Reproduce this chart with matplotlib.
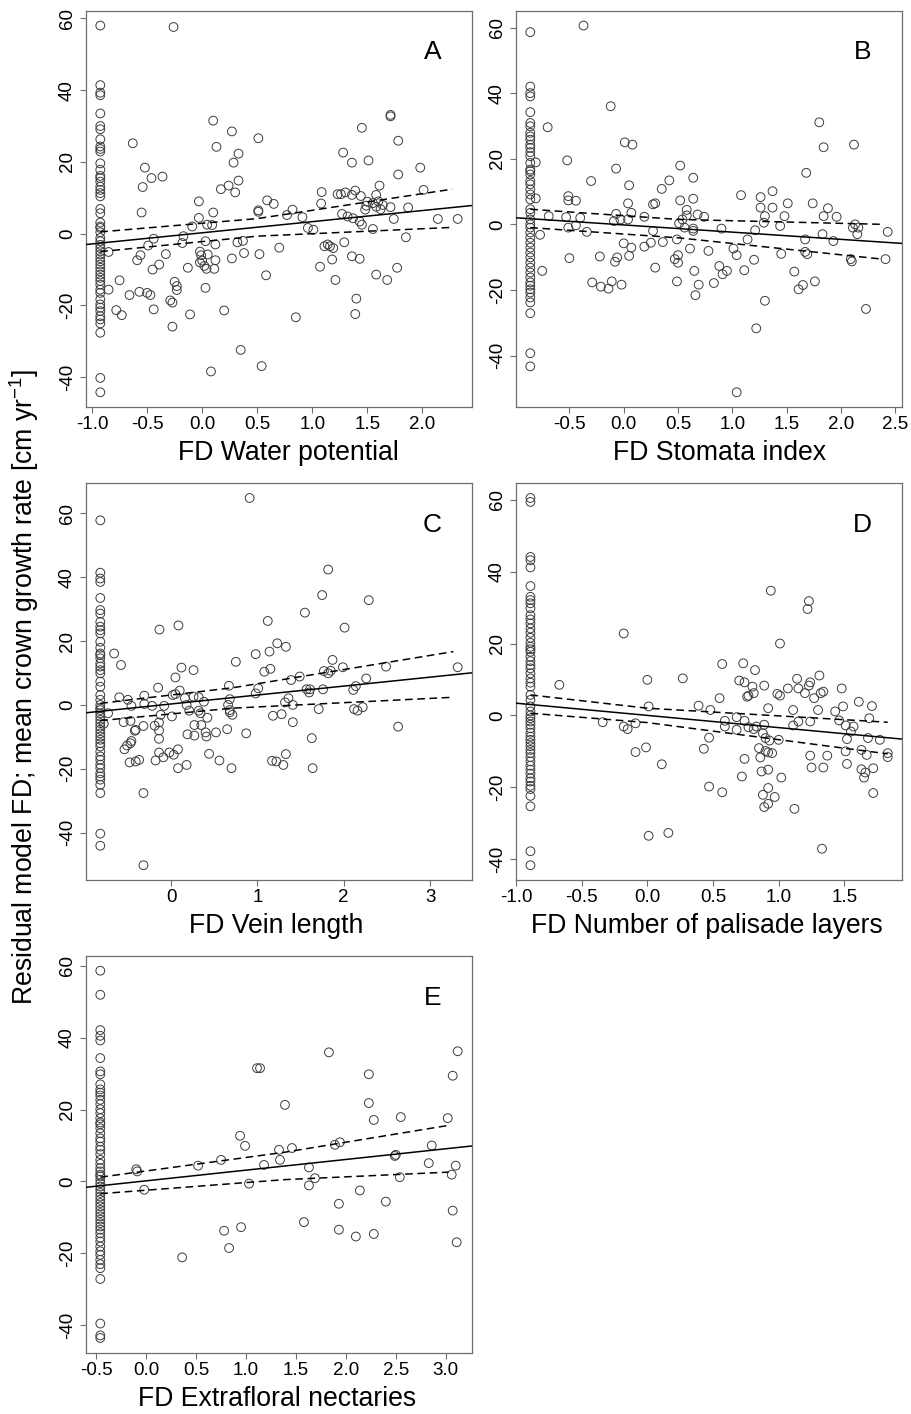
import matplotlib

matplotlib.use("Agg")
import matplotlib.pyplot as plt
import numpy as np

plt.rcParams["font.family"] = ["Liberation Sans", "DejaVu Sans"]
plt.rcParams["mathtext.default"] = "regular"

# ---------------- panel A: water potential ----------------
A_X0 = -0.925
A_Y0 = [58.0, 41.4, 39.3, 38.6, 33.5, 30.0, 29.1, 26.3, 24.3, 23.6, 22.9, 19.6, 17.8, 16.1,
        15.5, 14.5, 13.1, 12.2, 11.3, 10.4, 6.9, 5.7, 3.1, 2.0, 1.6, 0.4, -1.2, -2.1, -3.1,
        -4.0, -4.9, -5.8, -6.8, -7.7, -8.6, -9.5, -10.5, -11.4, -12.3, -13.2, -14.2, -15.6,
        -16.5, -18.3, -19.7, -20.6, -21.6, -23.0, -23.9, -25.0, -27.6, -40.2, -44.2]
A_X = [-0.26, -0.63, -0.52, -0.54, -0.46, -0.36, -0.55, -0.03, -0.03, -0.09,
       0.045, 0.09, 0.10, 0.13, 0.17, 0.24, 0.30, 0.285, 0.27, 0.33,
       0.33, 0.10, 0.51, 0.51, 0.51, 0.59, 0.65, 0.77, 0.82,
       -0.85, -0.85, -0.66, -0.75, -0.78, -0.73, -0.59, -0.56, -0.49, -0.44,
       -0.45, -0.39, -0.33, -0.57, -0.50, -0.47, -0.44, -0.29, -0.27, -0.25,
       -0.23, -0.23, -0.27, -0.17, -0.18, -0.13, -0.11, -0.02, -0.01, 0.0,
       -0.02, 0.02, 0.04, 0.05, 0.03, 0.12, 0.12, 0.11, 0.03, 0.20,
       0.08, 0.27, 0.32, 0.37, 0.38, 0.35, 0.52, 0.58, 0.54, 0.70, 0.85,
       1.71, 1.71, 1.45, 1.78, 1.28, 1.36, 1.51, 1.78, 1.98, 1.61,
       2.01, 1.085, 1.08, 1.23, 1.26, 1.30, 1.36, 1.39, 1.44, 1.58,
       1.55, 1.60, 1.58, 1.64, 1.62, 1.49, 1.48, 1.50, 1.71, 1.87,
       1.27, 1.32, 1.37, 1.74, 2.14, 2.32, 0.91, 1.45, 1.43, 1.55,
       0.96, 1.01, 1.85, 1.29, 1.11, 1.14, 1.16, 1.19, 1.36, 1.43,
       1.18, 1.07, 1.58, 1.68, 1.77, 1.21, 1.40, 1.39]
A_Y = [57.6, 25.2, 18.4, 13.0, 15.5, 15.9, 5.9, 9.0, 4.4, 2.0,
       2.5, 2.4, 31.5, 24.2, 12.4, 13.4, 11.5, 19.8, 28.5, 14.8,
       22.3, 5.9, 26.6, 6.5, 6.1, 9.3, 8.3, 5.2, 6.7,
       -5.1, -15.6, -17.1, -13.0, -21.3, -22.7, -7.4, -6.0, -3.3, -1.4,
       -10.0, -8.6, -5.7, -16.2, -16.5, -17.1, -21.1, -18.6, -19.2, -13.4,
       -14.6, -15.7, -25.9, -0.7, -2.6, -9.5, -22.5, -5.0, -6.0, -7.5,
       -8.0, -9.0, -9.8, -5.8, -2.1, -3.0, -7.4, -9.8, -15.1, -21.4,
       -38.4, -6.9, -2.4, -2.0, -5.4, -32.4, -5.7, -11.6, -36.9, -3.9, -23.3,
       33.1, 32.7, 29.5, 25.9, 22.6, 19.8, 20.4, 16.5, 18.4, 13.4,
       12.2, 11.6, 8.4, 11.0, 11.0, 11.5, 10.8, 12.0, 10.5, 10.8,
       8.5, 9.0, 7.5, 8.0, 6.8, 7.8, 6.7, 8.9, 7.4, 7.3,
       5.5, 4.8, 4.3, 4.1, 4.1, 4.1, 4.6, 2.5, 3.4, 1.3,
       1.6, 1.1, -1.0, -2.4, -3.5, -3.0, -3.5, -4.0, -6.3, -7.0,
       -7.2, -9.2, -11.4, -12.9, -9.5, -12.9, -18.1, -22.4]
A_FIT = (0.25, 3.1)
A_BAND_X = [-0.925, 0.5, 2.27]
A_BAND_HI = [0.5, 4.2, 12.4]
A_BAND_LO = [-5.0, -0.7, 1.75]
A_XTICKS = [-1.0, -0.5, 0.0, 0.5, 1.0, 1.5, 2.0]

# ---------------- panel B: stomata index ----------------
B_X0 = -0.86
B_Y0 = [58.6, 42.0, 40.0, 39.0, 34.2, 30.9, 29.9, 27.9, 26.8, 25.8, 24.3, 23.3, 22.0, 20.8,
        18.7, 16.7, 16.2, 15.2, 13.2, 12.2, 10.6, 9.1, 7.6, 4.6, 3.5, 1.5, 0.0, -1.0, -2.5,
        -4.1, -5.6, -7.1, -8.6, -10.1, -11.7, -13.2, -14.7, -16.2, -17.7, -18.7, -19.8,
        -20.8, -22.3, -23.8, -27.1, -39.3, -43.3]
B_X = [-0.81, -0.81, -0.77, -0.75, -0.37, -0.70, -0.12, 0.01, 0.08, -0.52,
       -0.07, -0.30, 0.05, -0.51, -0.51, -0.44, -0.69, -0.53, -0.40, -0.07,
       -0.03, -0.09, 0.04, 0.07, 0.04, 0.19, 0.27, 0.29, 0.35, 0.42,
       0.52, 0.52, 0.64, 0.64, 0.58, 0.58, 0.68, 0.74, 0.51, 0.54,
       1.08, 1.26, 1.26, 1.30, 1.37, 1.37, 1.51, 1.48, 1.68, 1.74,
       1.80, 1.84, 1.88, 1.84, 1.96, 2.12, 1.29,
       -0.51, -0.44, -0.34, -0.50, -0.22, -0.06, -0.08, -0.29, -0.21, -0.14,
       -0.11, -0.02, 0.0, 0.07, 0.05, 0.19, 0.25, 0.27, 0.36, 0.29,
       0.49, 0.50, 0.47, 0.50, 0.49, 0.56, 0.64, 0.64, 0.61, 0.65,
       0.66, 0.69, 0.78, 0.83, 0.88, 0.91, 0.95, 0.90, 1.01, 1.04,
       1.04, 1.11, 1.14, 1.20, 1.21, 1.22, 1.30, 1.44, 1.45, 1.57,
       1.61, 1.65, 1.67, 1.67, 1.69, 1.76, 1.83, 1.93, 2.09, 2.10,
       2.11, 2.16, 2.15, 2.13, 2.23, 2.41, 2.43]
B_Y = [18.9, 7.9, -3.2, -14.2, 60.6, 29.6, 36.0, 25.0, 24.3, 19.5,
       17.0, 13.2, 11.9, 8.6, 7.3, 7.2, 2.5, 2.2, 2.0, 3.2,
       1.5, 1.0, 6.4, 3.5, 1.5, 2.3, 6.1, 6.4, 10.8, 13.4,
       17.9, 7.3, 14.2, 7.8, 4.4, 2.7, 3.0, 2.3, 0.3, 1.5,
       8.9, 8.3, 5.1, 2.5, 10.1, 5.1, 6.4, 2.5, 15.7, 6.4,
       31.1, 23.5, 4.9, 2.5, 2.3, 24.3, 0.5,
       -1.0, -0.3, -2.3, -10.3, -9.8, -10.1, -11.4, -17.7, -19.0, -19.6,
       -17.4, -18.4, -5.8, -7.1, -9.6, -6.8, -5.6, -2.0, -5.4, -13.2,
       -4.6, -9.4, -10.6, -11.7, -17.4, -1.0, -1.3, -2.0, -7.4, -14.2,
       -21.6, -18.4, -8.1, -17.9, -12.7, -15.2, -14.2, -1.3, -7.4, -9.4,
       -51.2, -14.0, -4.6, -10.8, -1.8, -31.7, -23.3, -0.5, -9.0, -14.4,
       -19.8, -18.5, -4.6, -8.4, -9.1, -17.4, -3.0, -5.1, -10.6, -11.3,
       -1.0, -1.0, -3.0, 0.0, -25.8, -10.6, -2.3]
B_FIT = (-0.18, -2.2)
B_BAND_X = [-0.86, 0.5, 2.38]
B_BAND_HI = [4.6, 1.5, 0.0]
B_BAND_LO = [-1.0, -4.1, -10.6]
B_XTICKS = [-0.5, 0.0, 0.5, 1.0, 1.5, 2.0, 2.5]

# ---------------- panel C: vein length ----------------
C_X0 = -0.82
C_Y0 = [57.8, 41.4, 39.6, 38.5, 33.5, 29.7, 28.6, 26.0, 24.5, 23.4, 22.4, 19.8, 17.9, 16.1,
        15.6, 14.6, 13.0, 12.0, 10.9, 9.9, 7.3, 5.7, 3.1, 1.6, 0.0, -1.0, -1.6, -2.6, -3.6,
        -4.7, -5.7, -6.8, -7.8, -8.9, -9.9, -10.9, -12.0, -13.0, -14.6, -16.1, -17.2,
        -18.7, -19.8, -21.4, -22.4, -23.4, -25.0, -27.6, -40.3, -44.1]
C_X = [0.91, 1.82, 1.75, 2.29, 1.55, 1.12, 2.01, 0.085, -0.135, 1.23,
       1.33, 1.14, 0.98, 0.75, -0.66, -0.58, 0.12, 0.26, 0.05, 1.08,
       1.15, 1.87, 1.77, 1.82, 1.85, 1.99, 2.49, 3.32, 1.49, 1.39,
       2.26, 2.14, -0.15, 0.67, 1.01, 1.57, 1.61, 1.76, 0.10,
       -0.78, -0.73, -0.60, -0.50, -0.46, -0.55, -0.47, -0.42, -0.41, -0.54,
       -0.51, -0.47, -0.46, -0.48, -0.41, -0.37, -0.32, -0.31, -0.31, -0.32,
       -0.32, -0.22, -0.19, -0.14, -0.14, -0.14, -0.18, -0.14, -0.09, -0.12,
       -0.08, 0.01, -0.02, 0.03, 0.08, 0.08, 0.02, 0.05, 0.16, 0.18,
       0.21, 0.18, 0.19, 0.27, 0.27, 0.35, 0.26, 0.32, 0.38, 0.32,
       0.34, 0.40, 0.41, 0.42, 0.44, 0.52, 0.56, 0.65, 0.66, 0.68,
       0.68, 0.71, 0.68, 0.70, 0.87, 0.98, 1.18, 1.28, 1.17, 1.22,
       1.30, 1.33, 1.32, 1.36, 1.41, 1.41, 1.60, 1.63, 1.71, 1.64,
       2.11, 2.12, 2.16, 2.22, 2.63]
C_Y = [64.8, 42.4, 34.4, 32.8, 28.9, 26.3, 24.2, 24.9, 23.6, 19.3,
       18.2, 16.7, 15.9, 13.5, 16.1, 12.5, 11.7, 10.9, 8.6, 10.4,
       11.3, 14.1, 10.6, 9.9, 10.7, 11.8, 12.0, 11.8, 8.9, 7.8,
       8.3, 5.9, 5.4, 6.0, 5.2, 4.9, 4.9, 4.9, 4.5,
       -5.9, -2.6, 2.4, 1.6, -0.3, -5.4, -5.0, -8.1, -7.8, -13.9,
       -12.7, -12.0, -11.3, -18.0, -17.7, -17.2, -6.6, 2.9, 0.3, -27.6,
       -50.2, -0.3, -6.5, -5.5, -8.0, -10.6, -17.4, -14.9, -16.4, -3.1,
       -0.3, -3.6, -14.9, -15.6, -13.9, -19.8, 3.1, 3.4, 2.1, 0.0,
       -1.8, -18.8, -9.2, -9.6, -6.3, -6.3, 2.6, 2.4, 1.0, -1.8,
       -2.6, -8.6, -9.9, -4.0, -15.3, -8.6, -17.4, -7.6, 0.0, -1.6,
       -2.3, -3.1, 1.8, -19.8, -8.9, 3.6, -3.4, -2.9, -17.5, -17.7,
       -18.8, -15.4, 0.8, 2.1, 0.0, -5.4, 3.9, -10.4, -1.3, -19.8,
       4.7, -1.3, -1.8, -0.7, -6.8]
C_FIT = (0.3, 2.8)
C_BAND_X = [-0.82, 0.72, 3.27]
C_BAND_HI = [0.5, 5.4, 16.7]
C_BAND_LO = [-4.9, -1.0, 2.4]
C_XTICKS = [0, 1, 2, 3]

# ---------------- panel D: palisade layers ----------------
D_X0 = -0.89
D_Y0 = [60.5, 59.4, 44.1, 43.2, 41.2, 36.0, 33.0, 32.1, 31.2, 29.8, 27.9, 26.7, 25.6, 24.2,
        23.0, 21.6, 20.2, 19.1, 18.4, 17.7, 16.3, 15.1, 14.0, 13.1, 11.7, 10.3, 9.1, 8.0,
        5.7, 4.3, 2.5, 1.1, 0.0, -0.8, -1.7, -2.6, -3.6, -4.8, -5.9, -6.8, -7.7, -8.6,
        -9.6, -10.5, -11.6, -12.8, -14.0, -15.1, -16.2, -17.5, -18.4, -19.6, -20.5, -22.4,
        -25.3, -37.8, -41.7]
D_X = [-0.18, -0.67, 0.0, 0.27, 0.57, 0.73, 0.82, 0.94, 1.23, 1.22,
       1.01, 0.70, 0.74, 0.80, 0.89, 1.14, 1.31, 1.24, 1.07, 1.15, 1.23, 1.48,
       -0.34, -0.18, -0.15, -0.09, -0.09, -0.01, 0.01, 0.01, 0.11, 0.16,
       0.39, 0.48, 0.55, 0.43, 0.47, 0.47, 0.57, 0.59, 0.59, 0.68,
       0.68, 0.74, 0.76, 0.77, 0.81, 0.74, 0.72, 0.77, 0.81, 0.83,
       0.85, 0.86, 0.87, 0.88, 0.89, 0.92, 0.92, 0.92, 0.89, 0.88,
       0.90, 0.92, 0.90, 0.92, 0.95, 0.93, 0.97, 0.99, 1.01, 1.00,
       1.02, 1.11, 1.11, 1.12, 1.15, 1.20, 1.27, 1.24, 1.24, 1.25,
       1.30, 1.32, 1.34, 1.34, 1.33, 1.37, 1.43, 1.46, 1.49, 1.51,
       1.52, 1.51, 1.52, 1.55, 1.57, 1.61, 1.63, 1.63, 1.65, 1.66,
       1.67, 1.68, 1.69, 1.71, 1.72, 1.72, 1.77, 1.83, 1.83]
D_Y = [22.8, 8.5, 9.9, 10.3, 14.3, 14.5, 12.6, 34.7, 31.8, 29.6,
       20.0, 9.7, 9.2, 8.0, 8.3, 10.2, 11.1, 9.2, 7.5, 7.5, 8.3, 7.5,
       -1.9, -3.1, -3.8, -2.2, -10.2, -8.9, 2.5, -33.5, -13.6, -32.7,
       2.7, 1.5, 4.8, -9.3, -6.2, -19.8, -21.4, -1.5, -3.1, -0.5,
       -4.0, -1.5, 5.2, 5.5, 6.2, -12.1, -17.0, -3.3, -3.8, -3.1,
       -9.1, -11.7, -15.6, -22.1, -25.5, -24.6, -20.2, -15.1, -2.6, -5.0,
       -6.3, 2.0, -9.9, -10.3, -10.5, -7.0, -22.7, 6.0, 5.5, -6.8,
       -17.3, 1.5, -2.8, -26.0, -1.7, 6.2, 4.8, -1.7, -11.2, -14.5,
       1.5, 6.2, 6.6, -14.5, -37.1, -11.2, 1.1, -1.4, 2.5, -2.8,
       -6.6, -10.0, -13.5, -4.5, -3.1, 3.8, -9.6, -15.0, -17.3, -15.9,
       -11.0, -6.3, -0.8, 2.6, -14.7, -21.6, -6.8, -10.5, -11.6]
D_FIT = (0.0, -3.4)
D_BAND_X = [-0.89, 0.0, 1.83]
D_BAND_HI = [5.7, 2.0, -1.9]
D_BAND_LO = [0.6, -2.0, -10.7]
D_XTICKS = [-1.0, -0.5, 0.0, 0.5, 1.0, 1.5]

# ---------------- panel E: extrafloral nectaries ----------------
E_X0 = -0.46
E_Y0 = [58.6, 51.9, 42.1, 40.5, 39.2, 34.3, 30.6, 29.8, 27.0, 25.6, 24.7, 23.9, 22.7, 21.5,
        20.1, 19.0, 17.6, 16.4, 15.9, 14.8, 13.4, 12.0, 11.1, 9.7, 8.8, 7.6, 6.0, 4.9, 3.7,
        2.8, 1.9, 1.4, 0.5, -0.5, -1.4, -2.3, -3.2, -4.2, -5.1, -6.0, -6.9, -7.9, -8.8,
        -9.7, -10.6, -11.6, -12.5, -13.4, -14.4, -15.6, -16.7, -18.1, -19.4, -20.4, -21.8,
        -23.0, -24.1, -27.1, -39.5, -42.8, -43.5]
E_X = [1.83, 3.12, 1.11, 1.14, 2.23, 3.07, 1.39, 2.23, 2.28, 2.55,
       3.02, 0.94, 0.99, 1.89, 1.94, 1.33, 1.46, 2.86, 2.49, 2.50,
       0.75, 0.52, 1.34, 1.18, 1.63, 2.83, 3.10, -0.10, -0.09, 1.69,
       2.54, 3.06, -0.02, 0.36, 0.78, 0.83, 0.95, 1.03, 1.58, 1.63,
       1.93, 1.93, 2.10, 2.14, 2.28, 2.40, 3.07, 3.11]
E_Y = [35.9, 36.2, 31.5, 31.5, 29.8, 29.4, 21.3, 21.8, 17.1, 17.9,
       17.6, 12.7, 9.9, 10.2, 10.9, 8.8, 9.3, 10.0, 7.1, 7.4,
       6.0, 4.4, 6.0, 4.6, 3.9, 5.1, 4.4, 3.4, 2.8, 0.9,
       1.2, 1.9, -2.3, -21.1, -13.7, -18.5, -12.7, -0.6, -11.3, -1.1,
       -6.2, -13.4, -15.3, -2.5, -14.6, -5.6, -8.1, -16.9]
E_FIT = (0.18, 2.97)
E_BAND_X = [-0.46, 1.38, 3.03]
E_BAND_HI = [1.2, 8.1, 15.6]
E_BAND_LO = [-3.4, 0.5, 2.6]
E_XTICKS = [-0.5, 0.0, 0.5, 1.0, 1.5, 2.0, 2.5, 3.0]

Y_TICKS = [-40, -20, 0, 20, 40, 60]
LETTERS = ["A", "B", "C", "D", "E"]
XLABELS = ["FD Water potential", "FD Stomata index", "FD Vein length",
           "FD Number of palisade layers", "FD Extrafloral nectaries"]
YLABEL = "Residual model FD; mean crown growth rate [cm yr$^{-1}$]"

BOX_COLOR = "#6e6e6e"
DASH = (0, (5, 3))


def draw_panel(ax, x0, y0, xs, ys, fit, band_x, band_hi, band_lo, xticks,
               letter, xlabel, label_x=0.5, int_ticks=False):
    x = np.concatenate([np.full(len(y0), x0), np.asarray(xs, float)])
    y = np.concatenate([np.asarray(y0, float), np.asarray(ys, float)])

    # R style axis range: data range padded by 4 %
    xr = x.max() - x.min()
    yr = y.max() - y.min()
    xlim = (x.min() - 0.04 * xr, x.max() + 0.04 * xr)
    ylim = (y.min() - 0.04 * yr, y.max() + 0.04 * yr)

    ax.scatter(x, y, s=40, facecolors="none", edgecolors="#3c3c3c",
               linewidths=0.7, zorder=3)

    gx = np.array(xlim)
    ax.plot(gx, fit[0] + fit[1] * gx, color="black", lw=1.1, zorder=4)
    ax.plot(band_x, band_hi, color="black", lw=1.1, linestyle=DASH, zorder=4)
    ax.plot(band_x, band_lo, color="black", lw=1.1, linestyle=DASH, zorder=4)

    ax.set_xlim(xlim)
    ax.set_ylim(ylim)
    ax.set_xticks(xticks)
    if int_ticks:
        ax.set_xticklabels([f"{t:d}" for t in xticks])
    else:
        ax.set_xticklabels([f"{t:.1f}" for t in xticks])
    ax.set_yticks(Y_TICKS)
    ax.set_yticklabels([str(t) for t in Y_TICKS], rotation=90, va="center")

    ax.tick_params(direction="out", length=4.3, width=0.8, color=BOX_COLOR,
                   labelsize=13.5)
    ax.tick_params(axis="x", pad=2.5)
    ax.tick_params(axis="y", pad=3)
    for spine in ax.spines.values():
        spine.set_color(BOX_COLOR)
        spine.set_linewidth(0.9)

    ax.text(0.898, 0.895, letter, transform=ax.transAxes, ha="center",
            va="center", fontsize=19)
    ax.set_xlabel(xlabel, fontsize=19.2, labelpad=5)
    ax.xaxis.label.set_x(label_x)


def main() -> None:
    fig = plt.figure(figsize=(9.11, 14.14), dpi=100)
    fig.patch.set_facecolor("white")

    boxes = [
        [0.0944, 0.7122, 0.4237, 0.2801],
        [0.5664, 0.7122, 0.4237, 0.2801],
        [0.0944, 0.3777, 0.4237, 0.2805],
        [0.5664, 0.3777, 0.4237, 0.2805],
        [0.0944, 0.0434, 0.4237, 0.2805],
    ]
    label_x = [0.525, 0.527, 0.494, 0.495, 0.494]
    panels = [
        (A_X0, A_Y0, A_X, A_Y, A_FIT, A_BAND_X, A_BAND_HI, A_BAND_LO, A_XTICKS, False),
        (B_X0, B_Y0, B_X, B_Y, B_FIT, B_BAND_X, B_BAND_HI, B_BAND_LO, B_XTICKS, False),
        (C_X0, C_Y0, C_X, C_Y, C_FIT, C_BAND_X, C_BAND_HI, C_BAND_LO, C_XTICKS, True),
        (D_X0, D_Y0, D_X, D_Y, D_FIT, D_BAND_X, D_BAND_HI, D_BAND_LO, D_XTICKS, False),
        (E_X0, E_Y0, E_X, E_Y, E_FIT, E_BAND_X, E_BAND_HI, E_BAND_LO, E_XTICKS, False),
    ]
    for box, p, letter, xlabel, lx in zip(boxes, panels, LETTERS, XLABELS, label_x):
        ax = fig.add_axes(box)
        x0, y0, xs, ys, fit, bx, bhi, blo, xt, it = p
        draw_panel(ax, x0, y0, xs, ys, fit, bx, bhi, blo, xt, letter, xlabel,
                   label_x=lx, int_ticks=it)

    fig.text(0.027, 0.514, YLABEL, rotation=90, ha="center", va="center",
             fontsize=19.2)

    fig.savefig("out.png", dpi=100)
    plt.close(fig)


if __name__ == "__main__":
    main()
